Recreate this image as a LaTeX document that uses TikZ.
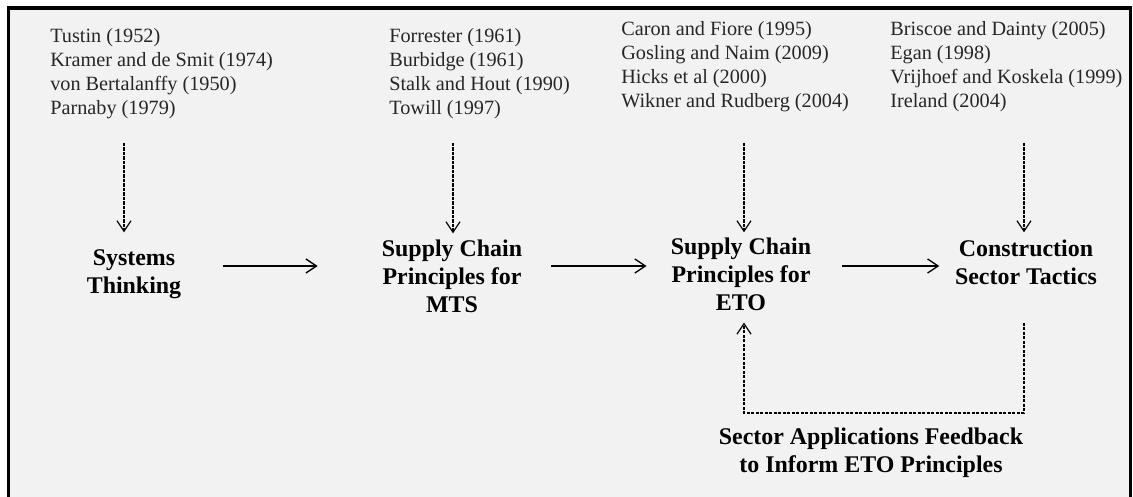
\documentclass[tikz,border=0pt]{standalone}
\usepackage{fontspec}
\setmainfont{Liberation Serif}
\usetikzlibrary{arrows.meta}

\definecolor{panelGrey}{HTML}{F2F2F2}
\definecolor{refGrey}{HTML}{262626}

\tikzstyle{refNode} = [anchor=north west, inner sep=0pt, align=left, text=refGrey, font=\fontsize{14.4}{17}\selectfont]
\tikzstyle{stageNode} = [inner sep=0pt, align=center, text=black, font=\fontsize{17}{19.85}\selectfont\bfseries]
\tikzstyle{arrow} = [line width=0.95pt, -{Straight Barb[length=7.5pt,width=10pt]}]
\tikzstyle{dashArrow} = [line width=0.85pt, dash pattern=on 2.2pt off 1pt, -{Straight Barb[length=7.5pt,width=10pt]}]

\begin{document}
\begin{tikzpicture}[x=0.025cm, y=-0.025cm]
    \useasboundingbox (0,0) rectangle (1133,497);
    \fill[panelGrey] (8.8,8) rectangle (1130.5,497);
    \draw[line width=2.2pt] (8.8,505) -- (8.8,8) -- (1130.5,8) -- (1130.5,505);

    \node (refsST)[refNode] at (50,28) {Tustin (1952)\\Kramer and de Smit (1974)\\von Bertalanffy (1950)\\Parnaby (1979)};
    \node (refsMTS)[refNode] at (389,28) {Forrester (1961)\\Burbidge (1961)\\Stalk and Hout (1990)\\Towill (1997)};
    \node (refsETO)[refNode] at (621,21) {Caron and Fiore (1995)\\Gosling and Naim (2009)\\Hicks et al (2000)\\Wikner and Rudberg (2004)};
    \node (refsCST)[refNode] at (890,21) {Briscoe and Dainty (2005)\\Egan (1998)\\Vrijhoef and Koskela (1999)\\Ireland (2004)};

    \node (st)[stageNode] at (134,274) {Systems\\Thinking};
    \node (mts)[stageNode] at (452,276) {Supply Chain\\Principles for\\MTS};
    \node (eto)[stageNode] at (741,274) {Supply Chain\\Principles for\\ETO};
    \node (cst)[stageNode] at (1026,262) {Construction\\Sector Tactics};
    \node (fbText)[stageNode] at (871,453) {Sector Applications Feedback\\to Inform ETO Principles};

    \coordinate (d1) at (124,143);
    \coordinate (d2) at (453,143);
    \coordinate (d3) at (744,143);
    \coordinate (d4) at (1024,143);
    \coordinate (flow) at (0,266);
    \coordinate (fb) at (0,413);

    \draw [dashArrow, shorten >=12pt] (d1) -- (d1 |- st.north);
    \draw [dashArrow, shorten >=4.3pt] (d2) -- (d2 |- mts.north);
    \draw [dashArrow, shorten >=3.6pt] (d3) -- (d3 |- eto.north);
    \draw [dashArrow, shorten >=5pt] (d4) -- (d4 |- cst.north);

    \draw [arrow, shorten <=29.2pt, shorten >=45.5pt] (st.east |- flow) -- (mts.west |- flow);
    \draw [arrow, shorten <=20.6pt, shorten >=17.1pt] (mts.east |- flow) -- (eto.west |- flow);
    \draw [arrow, shorten <=22pt, shorten >=11pt] (eto.east |- flow) -- (cst.west |- flow);

    \draw [dashArrow, shorten <=27pt, shorten >=8.5pt] (d4 |- cst.south) -- (d4 |- fb) -- (d3 |- fb) -- (d3 |- eto.south);
\end{tikzpicture}
\end{document}
